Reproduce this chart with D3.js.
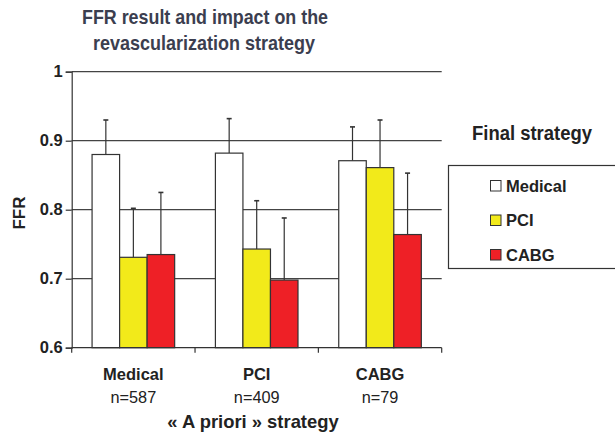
<!DOCTYPE html>
<html>
<head>
<meta charset="utf-8">
<script src="https://cdn.jsdelivr.net/npm/d3@7"></script>
<style>
  body { margin: 0; background: #fff; }
  svg { display: block; font-family: "Liberation Sans", Arial, Helvetica, sans-serif; }
</style>
</head>
<body>
<svg id="chart" width="615" height="437"></svg>
<script>
// "A priori" strategy groups and their sample sizes
const categories = ["Medical", "PCI", "CABG"];
const sampleSizes = ["n=587", "n=409", "n=79"];
// Final strategy series
const seriesNames = ["Medical", "PCI", "CABG"];
const seriesColors = ["#ffffff", "#f2ea1a", "#ee2026"];
// Mean FFR per group, one array per final strategy
const medicalMean = [0.880, 0.882, 0.871];
const pciMean     = [0.731, 0.743, 0.861];
const cabgMean    = [0.735, 0.698, 0.764];
// Mean + SD (top of error bar)
const medicalUpper = [0.930, 0.932, 0.920];
const pciUpper     = [0.802, 0.813, 0.930];
const cabgUpper    = [0.825, 0.788, 0.853];
const yTicks = [0.6, 0.7, 0.8, 0.9, 1];
const yTickLabels = ["0.6", "0.7", "0.8", "0.9", "1"];

const means = [medicalMean, pciMean, cabgMean];
const uppers = [medicalUpper, pciUpper, cabgUpper];

const svg = d3.select("#chart");
const plotLeft = 71.7, plotRight = 441.7, plotTop = 71.7, plotBottom = 347.7;

const x = d3.scaleBand().domain(categories).range([plotLeft, plotRight]).paddingInner(0).paddingOuter(0);
const xs = d3.scaleBand().domain(seriesNames).range([0, x.bandwidth()]).paddingInner(0).paddingOuter(0.74);
const y = d3.scaleLinear().domain([0.6, 1]).range([plotBottom, plotTop]);

// Horizontal gridlines
svg.append("g").selectAll("line").data(yTicks.slice(1)).join("line")
  .attr("x1", plotLeft).attr("x2", plotRight)
  .attr("y1", d => y(d)).attr("y2", d => y(d))
  .attr("stroke", "#444").attr("stroke-width", 1.2);

// Bars and error bars
const groups = svg.append("g").selectAll("g").data(categories).join("g")
  .attr("transform", c => `translate(${x(c)},0)`);

seriesNames.forEach((s, si) => {
  const g = groups.append("g");
  const cx = xs(s) + xs.bandwidth() / 2;
  g.append("line")
    .attr("x1", cx).attr("x2", cx)
    .attr("y1", (c, ci) => y(means[si][ci]))
    .attr("y2", (c, ci) => y(uppers[si][ci]))
    .attr("stroke", "#333").attr("stroke-width", 1.2);
  g.append("line")
    .attr("x1", cx - 2.5).attr("x2", cx + 2.5)
    .attr("y1", (c, ci) => y(uppers[si][ci]))
    .attr("y2", (c, ci) => y(uppers[si][ci]))
    .attr("stroke", "#333").attr("stroke-width", 1.6);
  g.append("rect")
    .attr("x", xs(s))
    .attr("width", xs.bandwidth())
    .attr("y", (c, ci) => y(means[si][ci]))
    .attr("height", (c, ci) => y(0.6) - y(means[si][ci]))
    .attr("fill", seriesColors[si])
    .attr("stroke", "#333").attr("stroke-width", 1.2);
});

// Y axis
const yAxis = d3.axisLeft(y).tickValues(yTicks)
  .tickFormat((d, i) => yTickLabels[i]).tickSize(6).tickPadding(3);
const ya = svg.append("g").attr("transform", `translate(${plotLeft},0)`).call(yAxis);
ya.select(".domain").attr("stroke", "#333").attr("stroke-width", 1.2);
ya.selectAll(".tick line").attr("stroke", "#333").attr("stroke-width", 1.2);
ya.selectAll(".tick text").attr("font-size", 16.5).attr("font-weight", "bold")
  .attr("fill", "#222").attr("font-family", "Liberation Sans, Arial, sans-serif");

// X axis
const xa = svg.append("g").attr("transform", `translate(0,${plotBottom})`);
xa.append("line").attr("x1", plotLeft).attr("x2", plotRight).attr("stroke", "#333").attr("stroke-width", 1.2);
const xTicks = categories.map(c => x(c)).concat([plotRight]);
xa.selectAll("line.tk").data(xTicks).join("line").attr("class", "tk")
  .attr("x1", d => d).attr("x2", d => d).attr("y1", 0).attr("y2", 5)
  .attr("stroke", "#333").attr("stroke-width", 1.2);

// Category labels
svg.append("g").selectAll("text").data(categories).join("text")
  .attr("x", c => x(c) + x.bandwidth() / 2).attr("y", 380)
  .attr("text-anchor", "middle").attr("font-size", 16.5).attr("font-weight", "bold")
  .attr("fill", "#222").text(c => c);
svg.append("g").selectAll("text").data(sampleSizes).join("text")
  .attr("x", (n, i) => x(categories[i]) + x.bandwidth() / 2).attr("y", 403)
  .attr("text-anchor", "middle").attr("font-size", 16.3)
  .attr("fill", "#222").text(n => n);

// Axis titles
svg.append("text").attr("x", 253).attr("y", 428).attr("text-anchor", "middle")
  .attr("font-size", 18.4).attr("font-weight", "bold").attr("fill", "#222")
  .text("« A priori » strategy");
svg.append("text").attr("transform", "translate(25,213) rotate(-90)")
  .attr("text-anchor", "middle").attr("font-size", 17).attr("font-weight", "bold")
  .attr("fill", "#222").text("FFR");

// Title (narrow, tall lettering)
const title = svg.append("g").attr("font-size", 20.5).attr("font-weight", "bold")
  .attr("fill", "#3b3e4f").attr("text-anchor", "middle");
title.append("text").attr("x", 205).attr("y", 23.5)
  .attr("textLength", 246).attr("lengthAdjust", "spacingAndGlyphs")
  .text("FFR result and impact on the");
title.append("text").attr("x", 204).attr("y", 50)
  .attr("textLength", 222).attr("lengthAdjust", "spacingAndGlyphs")
  .text("revascularization strategy");

// Legend
svg.append("text").attr("x", 532).attr("y", 140).attr("text-anchor", "middle")
  .attr("font-size", 19.5).attr("font-weight", "bold").attr("fill", "#222")
  .attr("textLength", 120).attr("lengthAdjust", "spacingAndGlyphs")
  .text("Final strategy");
svg.append("rect").attr("x", 448.5).attr("y", 165.5).attr("width", 200).attr("height", 103)
  .attr("fill", "#fff").attr("stroke", "#333").attr("stroke-width", 1.2);
const legendY = d3.scalePoint().domain(seriesNames).range([180, 249]);
const leg = svg.append("g").selectAll("g").data(seriesNames).join("g")
  .attr("transform", s => `translate(490,${legendY(s)})`);
leg.append("rect").attr("x", 0.5).attr("y", 0.5).attr("width", 10.5).attr("height", 10.5)
  .attr("fill", (s, i) => seriesColors[i]).attr("stroke", "#333").attr("stroke-width", 1);
leg.append("text").attr("x", 16).attr("y", 11.5).attr("font-size", 16.5).attr("font-weight", "bold")
  .attr("fill", "#222").text(s => s);
</script>
</body>
</html>
